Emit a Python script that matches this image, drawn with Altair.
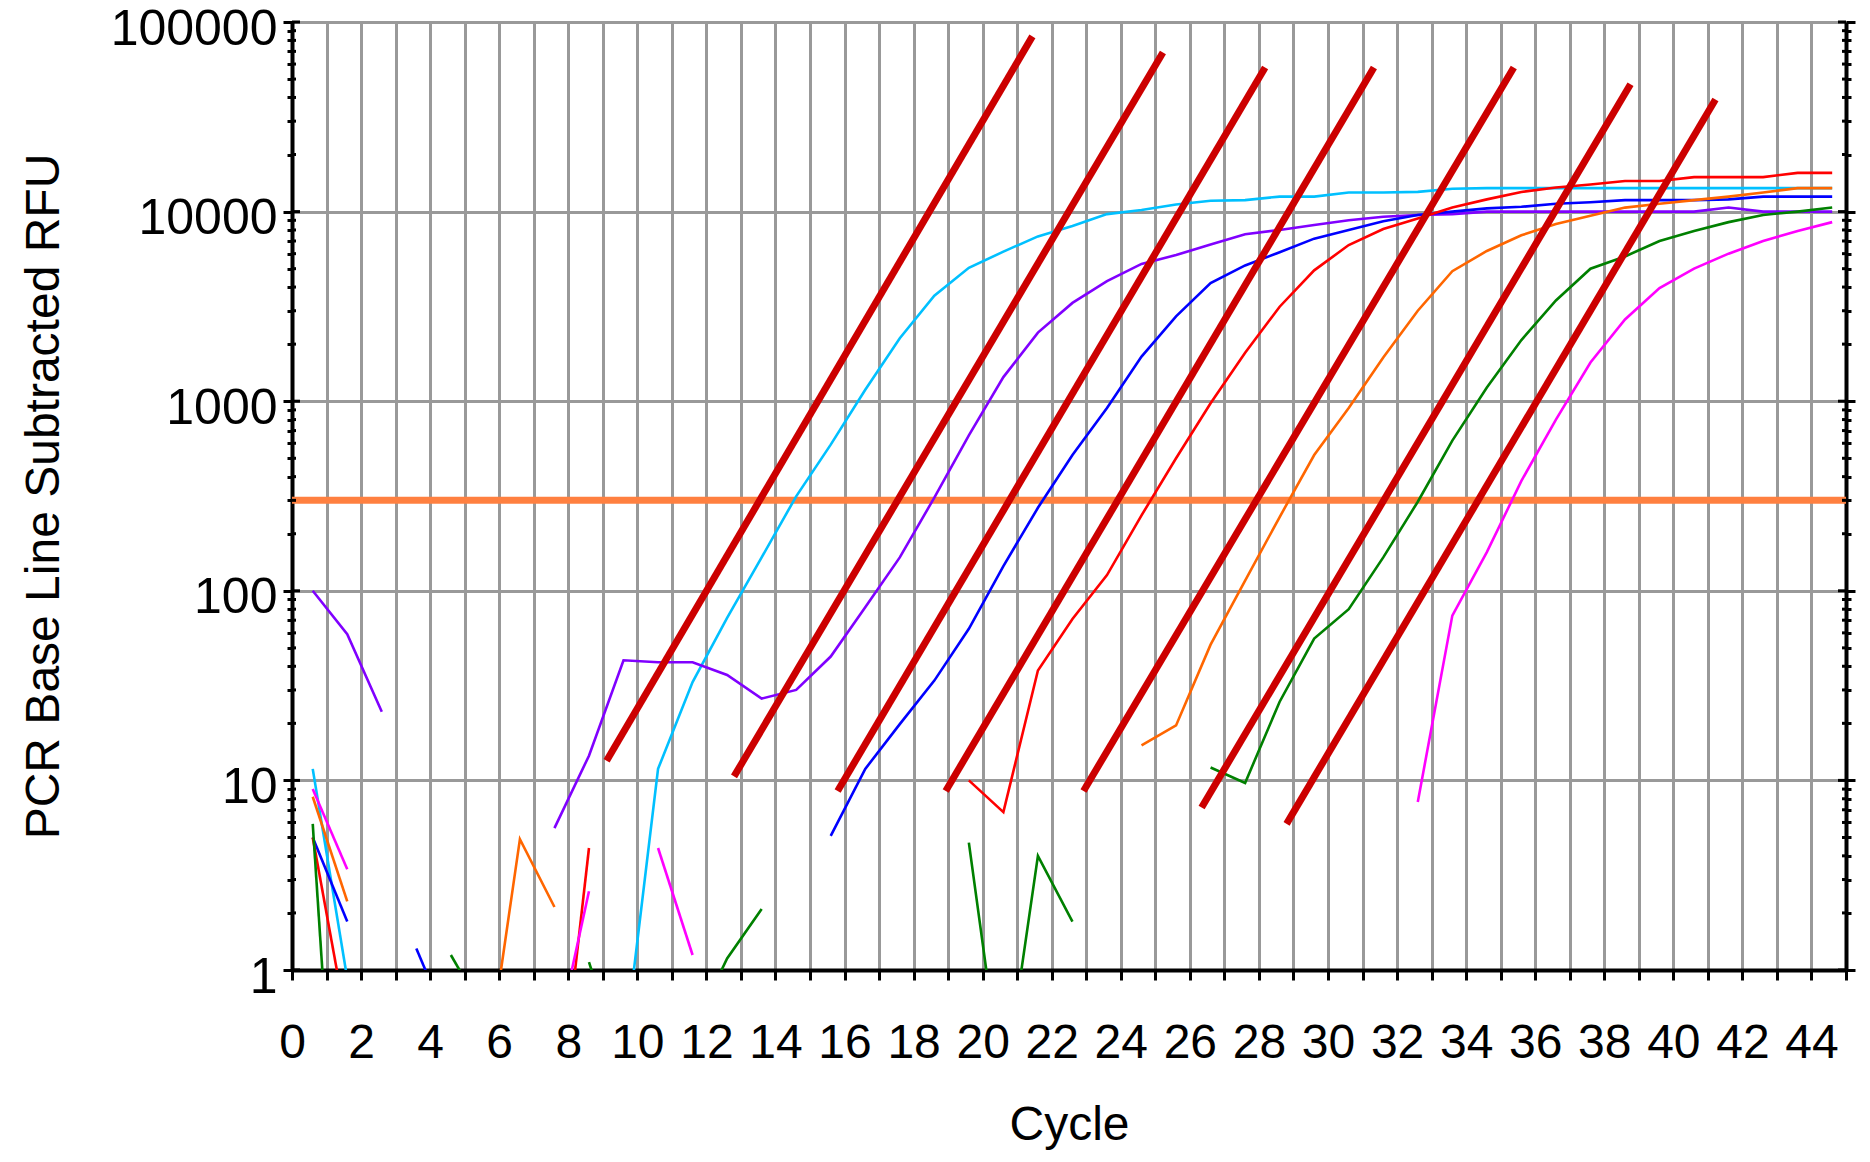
import altair as alt
import pandas as pd

# x positions of the 45 reads (cycle number as drawn on the axis)
cycle_pos = [c - 0.4 for c in range(1, 46)]

N = None
cyan = [11.5, 0.9, N, N, N, N, N, N, N, 0.35,
        11.5, 33, 72, 150, 315, 590, 1150, 2150, 3600, 5050,
        6150, 7400, 8400, 9700, 10200, 10900, 11400, 11500, 12000, 12000,
        12600, 12600, 12700, 13200, 13300, 13300, 13300, 13300, 13300, 13300,
        13300, 13300, 13300, 13300, 13300]
purple = [100, 59, 23, N, N, N, N, 5.6, 13.5, 43,
          42, 42, 36, 27, 30, 45, 82, 150, 310, 660,
          1340, 2300, 3300, 4300, 5300, 5900, 6700, 7600, 8000, 8500,
          9000, 9400, 9600, 9700, 10000, 10000, 10000, 10000, 10000, 10000,
          10000, 10500, 10000, 10000, 10000]
blue = [5.0, 1.8, N, 1.3, 0.48, N, N, N, N, N,
        N, N, N, N, N, 5.1, 11.5, 19.8, 33.6, 63,
        135, 274, 520, 920, 1720, 2800, 4200, 5200, 6100, 7200,
        8000, 8900, 9600, 10000, 10400, 10600, 11000, 11200, 11500, 11500,
        11500, 11600, 12000, 12000, 12000]
red = [5.0, 0.5, N, N, N, N, N, 0.11, 4.4, N,
       N, N, N, N, N, N, N, N, N, 10,
       6.8, 38, 71, 121, 250, 500, 975, 1800, 3150, 4900,
       6660, 8100, 9200, 10500, 11600, 12700, 13400, 13900, 14500, 14500,
       15200, 15200, 15200, 16000, 16000]
orange = [8.2, 2.3, N, N, N, 0.27, 4.9, 2.15, N, N,
          N, N, N, N, N, N, N, N, N, N,
          N, N, N, N, 15.3, 19.5, 52, 113, 245, 520,
          920, 1700, 3000, 4850, 6200, 7500, 8600, 9500, 10500, 11000,
          11500, 12000, 12600, 13300, 13300]
green = [5.9, 0.01, N, N, 1.2, 0.58, N, N, 1.1, 0.3,
         N, 0.48, 1.15, 2.1, N, N, N, N, N, 4.7,
         0.22, 4.0, 1.8, N, N, N, 11.7, 9.7, 26, 56,
         80, 150, 295, 620, 1180, 2100, 3400, 5000, 5800, 7000,
         7900, 8800, 9600, 10000, 10500]
magenta = [9.0, 3.4, N, N, N, N, N, 0.38, 2.6, N,
           4.4, 1.2, N, N, N, N, N, N, N, N,
           N, N, N, N, N, N, N, N, N, N,
           N, N, 7.7, 74, 160, 380, 800, 1600, 2700, 3950,
           5000, 6000, 7000, 7900, 8800]

series_names = ["cyan", "purple", "blue", "red", "orange", "green", "magenta"]
series_values = [cyan, purple, blue, red, orange, green, magenta]
series_colors = ["#00C0FF", "#8000FF", "#0000FF", "#FF0000", "#FF6600", "#008000", "#FF00FF"]

# fitted red lines (start/end)
fit_x1 = [9.11, 12.8, 15.8, 18.93, 22.92, 26.34, 28.8]
fit_y1 = [12.7, 10.5, 8.8, 8.8, 8.8, 7.2, 5.9]
fit_x2 = [21.44, 25.22, 28.18, 31.33, 35.38, 38.76, 41.22]
fit_y2 = [84000, 69000, 57500, 57500, 57500, 47000, 39000]

threshold = [300]

major_ticks = [1, 10, 100, 1000, 10000, 100000]
minor_ticks = [m * 10 ** e for e in range(0, 5) for m in range(2, 10)]

W, H = 1554, 948
FONT = "Liberation Sans"
dec = "abs(log(datum.value)/LN10 - round(log(datum.value)/LN10)) < 0.001"
yvals = sorted(major_ticks + minor_ticks)

xscale = alt.Scale(domain=[0, 45], nice=False, zero=False)
yscale = alt.Scale(type="log", domain=[1, 100000], nice=False)

xaxis = alt.Axis(values=list(range(0, 46)), labelExpr="datum.value % 2 === 0 ? datum.label : ''",
                 grid=True, gridColor="#999999", gridWidth=3, gridOpacity=1,
                 domainColor="black", domainWidth=4, tickColor="black", tickWidth=3, tickSize=10,
                 labelFont=FONT, labelFontSize=48, labelColor="black", labelPadding=39,
                 labelFlush=False, labelOverlap=False,
                 title="Cycle", titleFont=FONT, titleFontSize=48, titleFontWeight="normal",
                 titleColor="black", titlePadding=34)

yaxis_left = alt.Axis(orient="left", values=yvals, format="d", labelExpr=f"{dec} ? datum.label : ''",
                      grid=True, gridColor="#999999", gridWidth=3,
                      gridOpacity={"condition": {"test": dec, "value": 1}, "value": 0},
                      domainColor="black", domainWidth=4, tickColor="black", tickWidth=3,
                      tickSize={"condition": {"test": dec, "value": 9}, "value": 5},
                      labelFont=FONT, labelFontSize=50, labelColor="black", labelPadding=6,
                      labelOffset=7, labelOverlap=False, labelFlush=False,
                      title="PCR Base Line Subtracted RFU", titleFont=FONT, titleFontSize=48,
                      titleFontWeight="normal", titleColor="black", titlePadding=42)

yaxis_right = alt.Axis(orient="right", values=yvals, labels=False, grid=False,
                       domainColor="black", domainWidth=4, tickColor="black", tickWidth=3,
                       tickSize={"condition": {"test": dec, "value": 9}, "value": 5},
                       title=None)

thr_df = pd.DataFrame({"t": threshold, "x": [0]})

left_layer = alt.Chart(thr_df).mark_rule(color="#FF8040", strokeWidth=7).encode(
    y=alt.Y("t:Q", scale=yscale, axis=yaxis_left),
)
right_layer = alt.Chart(thr_df).mark_rule(opacity=0).encode(
    y=alt.Y("t:Q", scale=yscale, axis=yaxis_right),
)
xaxis_layer = alt.Chart(thr_df).mark_point(opacity=0).encode(
    x=alt.X("x:Q", scale=xscale, axis=xaxis),
    y=alt.Y("t:Q", scale=yscale, axis=None),
)

layers = [left_layer, right_layer, xaxis_layer]

for name, vals, col in zip(series_names, series_values, series_colors):
    rows = []
    seg = 0
    prev = False
    for xp, v in zip(cycle_pos, vals):
        if v is None:
            if prev:
                seg += 1
            prev = False
            continue
        rows.append({"x": xp, "v": v, "seg": seg})
        prev = True
    df = pd.DataFrame(rows)
    layers.append(
        alt.Chart(df).mark_line(color=col, strokeWidth=2.6, clip=True).encode(
            x=alt.X("x:Q", scale=xscale, axis=xaxis),
            y=alt.Y("v:Q", scale=yscale, axis=None),
            detail="seg:N",
        )
    )

fit_df = pd.DataFrame({"x1": fit_x1, "y1": fit_y1, "x2": fit_x2, "y2": fit_y2})
layers.append(
    alt.Chart(fit_df).mark_rule(color="#CC0000", strokeWidth=7, clip=True).encode(
        x=alt.X("x1:Q", scale=xscale, axis=xaxis),
        y=alt.Y("y1:Q", scale=yscale, axis=None),
        x2="x2:Q",
        y2="y2:Q",
    )
)

# inward halves of the y-axis ticks (left and right axes)
maj_df = pd.DataFrame({"t": major_ticks})
min_df = pd.DataFrame({"t": minor_ticks})
for tdf, ln in ((maj_df, 8), (min_df, 4)):
    layers.append(
        alt.Chart(tdf).mark_rule(color="black", strokeWidth=3).encode(
            y=alt.Y("t:Q", scale=yscale, axis=None),
            x=alt.value(0), x2=alt.value(ln),
        )
    )
    layers.append(
        alt.Chart(tdf).mark_rule(color="black", strokeWidth=3).encode(
            y=alt.Y("t:Q", scale=yscale, axis=None),
            x=alt.value(W - ln), x2=alt.value(W),
        )
    )

chart = alt.layer(*layers).resolve_axis(y="independent").properties(
    width=W, height=H,
    padding={"left": 284, "top": 14, "right": 12, "bottom": 184},
    autosize=alt.AutoSizeParams(type="none"),
).configure_view(stroke=None).configure(background="white")

chart.save("out.html", embed_options={"renderer": "svg", "actions": False})
